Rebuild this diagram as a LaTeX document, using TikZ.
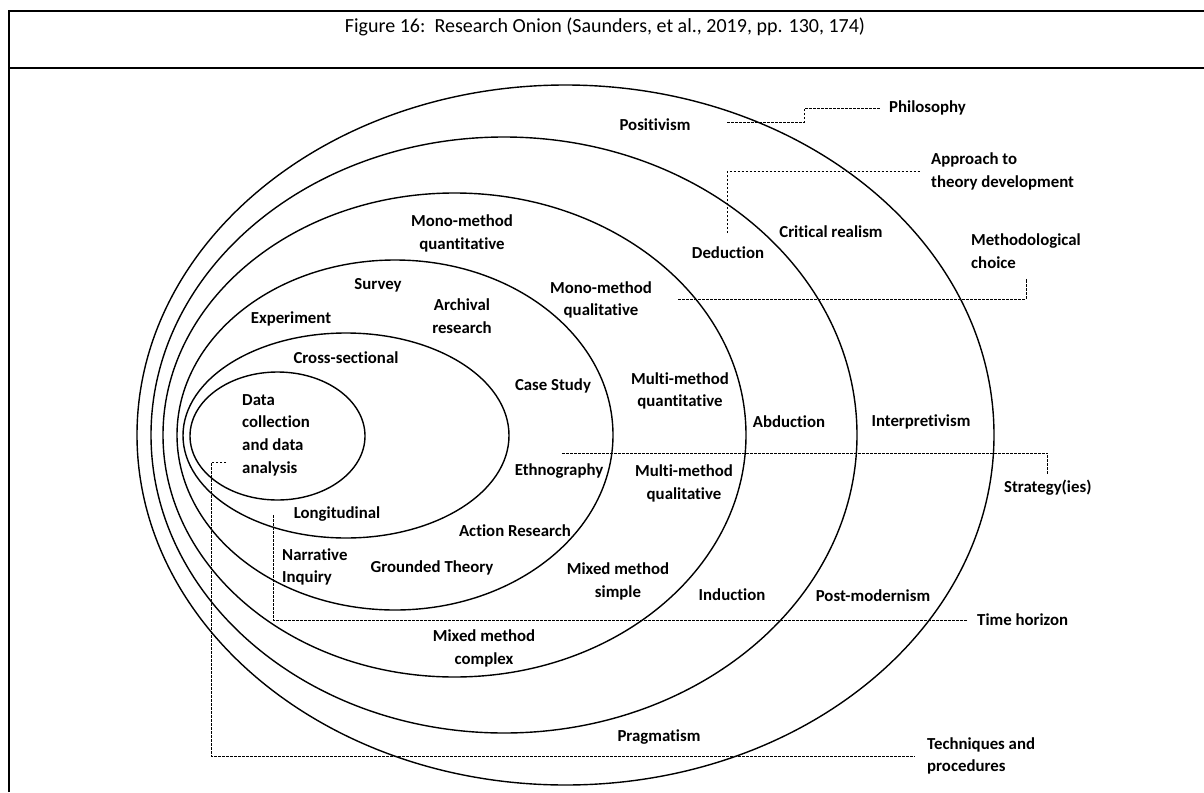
\documentclass[tikz,border=0pt]{standalone}
\usepackage{fontspec}
\setmainfont{Carlito}[Ligatures=NoCommon]
\begin{document}
\begin{tikzpicture}[x=1pt,y=-1pt,
  ring/.style={line width=1.4pt},
  lbl/.style={font=\fontsize{16.8}{22.7}\selectfont\bfseries, inner sep=0pt, align=center},
  lbll/.style={lbl, align=left, anchor=west},
  leader/.style={line width=0.8pt, dash pattern=on 2.5pt off 1.5pt},
  frame/.style={line width=2pt}]
\useasboundingbox (0,0) rectangle (1204,792);

% table frame and caption row
\draw[frame] (9,792) -- (9,11) -- (1204,11);
\draw[frame] (9,68) -- (1204,68);
\node[font=\fontsize{20}{24}\selectfont, inner sep=0pt] (title) at (605,27)
  {Figure 16:\ \ Research Onion (Saunders, et al., 2019, pp. 130, 174)};

% the onion layers
\draw[ring] (565.5,435) ellipse [x radius=428.5, y radius=350];
\draw[ring] (504,435)   ellipse [x radius=353,   y radius=298];
\draw[ring] (454.5,435) ellipse [x radius=291.5, y radius=242];
\draw[ring] (395,435)   ellipse [x radius=218,   y radius=175];
\draw[ring] (346,435.5) ellipse [x radius=163,   y radius=102.5];
\draw[ring] (277.5,436) ellipse [x radius=87.5,  y radius=64];

% labels inside the layers
\node[lbl] (posit)   at (655,125)   {Positivism};
\node[lbl] (crit)    at (831,232)   {Critical realism};
\node[lbl] (ded)     at (728,253)   {Deduction};
\node[lbl] (monoqt)  at (462,233.5) {Mono-method\\quantitative};
\node[lbl] (monoql)  at (601,300)   {Mono-method\\qualitative};
\node[lbl] (survey)  at (378,285)   {Survey};
\node[lbl] (archiv)  at (462,316.5) {Archival\\research};
\node[lbl] (exper)   at (291,319)   {Experiment};
\node[lbl] (cross)   at (346,358)   {Cross-sectional};
\node[lbl] (case)    at (553,386)   {Case Study};
\node[lbl] (multqt)  at (680,391)   {Multi-method\\quantitative};
\node[lbl] (abd)     at (789,422)   {Abduction};
\node[lbl] (interp)  at (921,422)   {Interpretivism};
\node[lbll] (data)   at (242,435)   {Data\\collection\\and data\\analysis};
\node[lbl] (ethno)   at (559,471)   {Ethnography};
\node[lbl] (multql)  at (684,483.5) {Multi-method\\qualitative};
\node[lbl] (longi)   at (337,514)   {Longitudinal};
\node[lbl] (action)  at (515,531)   {Action Research};
\node[lbll] (narr)   at (282,567)   {Narrative\\Inquiry};
\node[lbl] (grounded) at (432,568)  {Grounded Theory};
\node[lbl] (mixs)    at (618,581.5) {Mixed method\\simple};
\node[lbl] (induc)   at (732,595)   {Induction};
\node[lbl] (postm)   at (873,596)   {Post-modernism};
\node[lbl] (mixc)    at (484,648.5) {Mixed method\\complex};
\node[lbl] (prag)    at (659,737)   {Pragmatism};

% layer names on the right
\node[lbll] (phil)   at (889,108)   {Philosophy};
\node[lbll] (appr)   at (931,171.5) {Approach to\\theory development};
\node[lbll] (meth)   at (971,251)   {Methodological\\choice};
\node[lbll] (strat)  at (1004,488)  {Strategy(ies)};
\node[lbll] (horiz)  at (977,620)   {Time horizon};
\node[lbll] (tech)   at (927,756)   {Techniques and\\procedures};

% dashed leaders from each layer to its name
\coordinate (philA) at (727,122);
\coordinate (philB) at (804,122);
\draw[leader] (philA) -- (philB) |- ([xshift=-9pt]phil.west);

\coordinate (apprA) at (727,233);
\draw[leader] (apprA) |- ([xshift=-10pt]appr.west);

\coordinate (methA) at (678,299);
\draw[leader] (methA) -| ([yshift=-10pt]meth.south);

\coordinate (stratA) at (562,453);
\draw[leader] (stratA) -| ([yshift=6pt]strat.north);

\coordinate (horizA) at (273,515);
\draw[leader] (horizA) |- ([xshift=-9pt]horiz.west);

\coordinate (techA) at (226,462);
\coordinate (techB) at (211,462);
\draw[leader] (techA) -- (techB) |- ([xshift=-12pt]tech.west);
\end{tikzpicture}
\end{document}
